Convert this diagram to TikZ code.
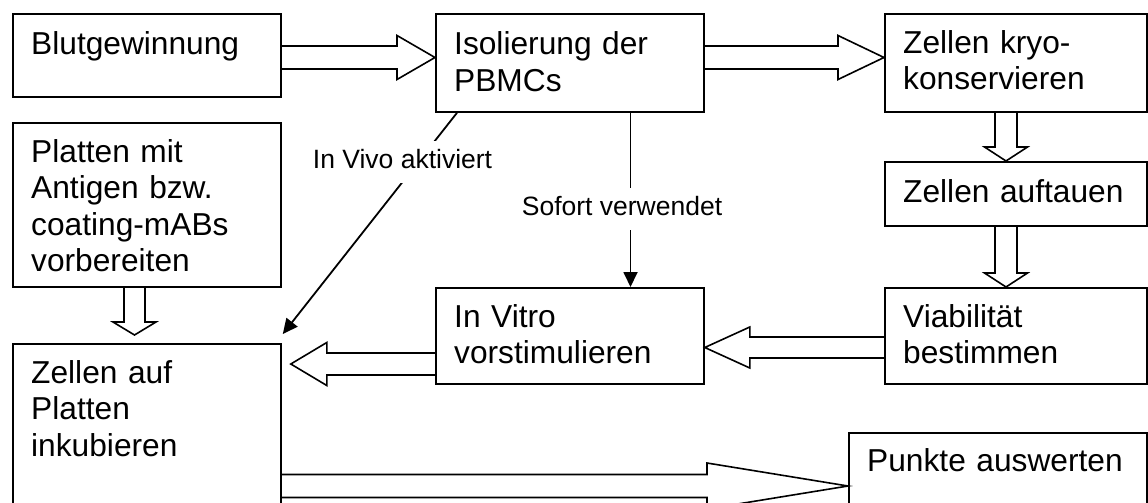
\documentclass[tikz,border=0pt]{standalone}
\usepackage{fontspec}
\setmainfont{Liberation Sans}
\usetikzlibrary{calc,arrows.meta}

\newcommand\blockarrow[5]{% start, end, shaft half width, head half width, head length
  \path let \p1=(#1), \p2=(#2), \n1={atan2(\y2-\y1,\x2-\x1)}, \n2={veclen(\x2-\x1,\y2-\y1)} in
    \pgfextra{\xdef\baang{\n1}\xdef\balen{\n2}};
  \begin{scope}[shift={(#1)}, rotate=\baang]
    \draw[barrow] (0,#3) -- (\balen-#5,#3) -- (\balen-#5,#4) -- (\balen,0)
      -- (\balen-#5,-#4) -- (\balen-#5,-#3) -- (0,-#3);
  \end{scope}}

\tikzset{
  box/.style={draw, line width=1.8pt, rectangle, inner sep=0pt, anchor=north west},
  txt/.style={anchor=base west, inner sep=0pt, text width=275pt, align=left,
    font=\fontsize{31.7}{36.5}\selectfont},
  barrow/.style={line width=1.6pt, line join=miter},
  thin/.style={line width=1.8pt, -{Triangle[length=15pt,width=14pt]}},
  lbl/.style={fill=white, inner xsep=4pt, text depth=12pt, text height=24pt,
    font=\fontsize{26.5}{30}\selectfont}
}

\begin{document}
\begin{tikzpicture}[x=1pt,y=1pt]
\useasboundingbox (0,0) rectangle (1148,-503);
\clip (0,0) rectangle (1148,-503);

% boxes
\node[box, minimum width=268pt, minimum height=83pt] (blut) at (12,-13) {};
\node[box, minimum width=268pt, minimum height=98pt] (iso) at (435,-13) {};
\node[box, minimum width=262pt, minimum height=98pt] (kryo) at (884,-13) {};
\node[box, minimum width=262pt, minimum height=64pt] (auf) at (884,-161) {};
\node[box, minimum width=268pt, minimum height=164pt] (platten) at (12,-122) {};
\node[box, minimum width=268pt, minimum height=180pt] (zellen) at (12,-343) {};
\node[box, minimum width=268pt, minimum height=96pt] (invitro) at (435,-287) {};
\node[box, minimum width=262pt, minimum height=96pt] (viab) at (884,-287) {};
\node[box, minimum width=298pt, minimum height=100pt] (punkte) at (848,-432) {};

% texts
\node[txt] (tblut) at ($(blut.north west)+(19,-42)$) {Blutgewinnung};
\node[txt] (tiso) at ($(iso.north west)+(19,-42)$) {Isolierung der\\PBMCs};
\node[txt] (tkryo) at ($(kryo.north west)+(19,-40)$) {Zellen kryo-\\konservieren};
\node[txt] (tauf) at ($(auf.north west)+(19,-41)$) {Zellen auftauen};
\node[txt] (tplatten) at ($(platten.north west)+(19,-40)$) {Platten mit\\Antigen bzw.\\coating-mABs\\vorbereiten};
\node[txt] (tzellen) at ($(zellen.north west)+(19,-40)$) {Zellen auf\\Platten\\inkubieren};
\node[txt] (tinvitro) at ($(invitro.north west)+(19,-40)$) {In Vitro\\vorstimulieren};
\node[txt] (tviab) at ($(viab.north west)+(19,-40)$) {Viabilität\\bestimmen};
\node[txt] (tpunkte) at ($(punkte.north west)+(19,-39)$) {Punkte auswerten};

% block arrows
\blockarrow{$(blut.north east)+(0,-44.5)$}{$(iso.north west)+(0,-44.5)$}{11.5}{22}{38}
\blockarrow{$(iso.north east)+(0,-44.5)$}{$(kryo.north west)+(0,-44.5)$}{11.5}{22}{46}
\blockarrow{$(kryo.south west)+(122,0)$}{$(auf.north west)+(122,0)$}{11}{21.5}{14}
\blockarrow{$(auf.south west)+(122,0)$}{$(viab.north west)+(122,0)$}{11}{21.5}{14}
\blockarrow{$(viab.north west)+(0,-60.5)$}{$(invitro.north east)+(0,-60.5)$}{10.5}{20.5}{45}
\blockarrow{$(invitro.north west)+(0,-77)$}{$(zellen.north east)+(9,-21)$}{11}{21.5}{36}
\blockarrow{$(platten.south west)+(122.5,0)$}{$(zellen.north west)+(122.5,8)$}{10.5}{21.5}{13}
\blockarrow{$(zellen.north east)+(0,-143)$}{$(punkte.north west)+(0,-54)$}{11.5}{23}{141}

% thin arrows with labels
\coordinate (vivoEnd) at ($(zellen.north east)+(1,9)$);
\draw[thin] ($(iso.south west)+(22,0)$) -- (vivoEnd);
\draw[thin] ($(iso.south west)+(195.5,0)$) -- ($(invitro.north west)+(195.5,0)$);
\node[lbl, anchor=base] (lvivo) at (402.5,-168) {In Vivo aktiviert};
\node[lbl, anchor=base] (lsofort) at (622,-215) {Sofort verwendet};
\end{tikzpicture}
\end{document}
